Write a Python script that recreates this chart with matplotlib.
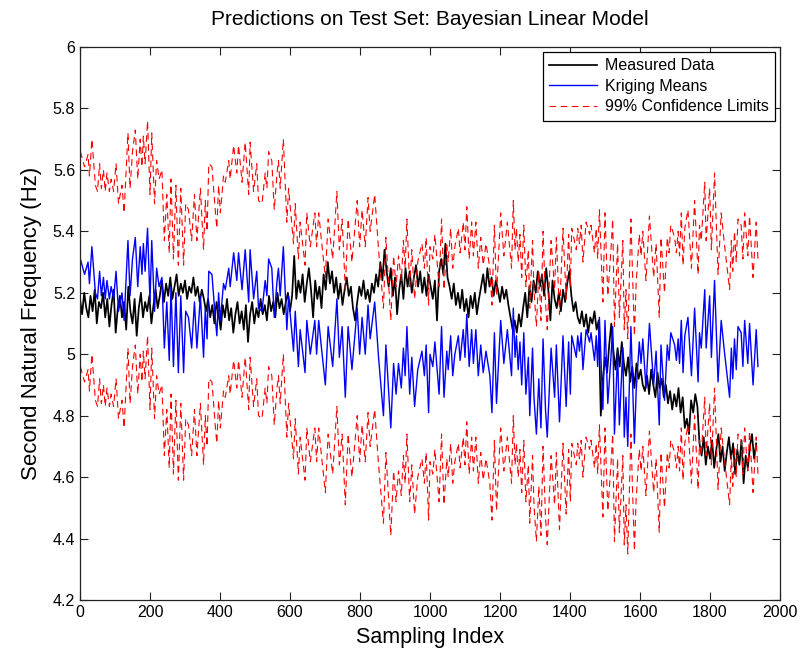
import numpy as np
import matplotlib
matplotlib.use('Agg')
import matplotlib.pyplot as plt
from matplotlib.ticker import FuncFormatter

plt.rcParams['font.family'] = ['Liberation Sans', 'DejaVu Sans']

# ---------------- data ----------------
# Measured data, one value every `measured_step` samples
measured_step = 6
measured_vals = [
    5.18, 5.13, 5.20, 5.15, 5.12, 5.19, 5.14, 5.21, 5.10, 5.17,
    5.15, 5.20, 5.12, 5.18, 5.09, 5.16, 5.21, 5.07, 5.15, 5.19,
    5.12, 5.17, 5.08, 5.22, 5.14, 5.10, 5.18, 5.06, 5.15, 5.20,
    5.12, 5.17, 5.14, 5.19, 5.10, 5.16, 5.21, 5.15, 5.19, 5.24,
    5.17, 5.23, 5.19, 5.25, 5.18, 5.22, 5.26, 5.19, 5.23, 5.20,
    5.24, 5.18, 5.22, 5.20, 5.25, 5.19, 5.22, 5.17, 5.21, 5.18,
    5.14, 5.18, 5.12, 5.16, 5.10, 5.17, 5.13, 5.08, 5.16, 5.12,
    5.18, 5.11, 5.15, 5.07, 5.13, 5.17, 5.10, 5.14, 5.08, 5.16,
    5.04, 5.13, 5.17, 5.10, 5.15, 5.12, 5.18, 5.13, 5.16, 5.11,
    5.19, 5.14, 5.17, 5.12, 5.20, 5.15, 5.18, 5.13, 5.17, 5.20,
    5.14, 5.19, 5.32, 5.18, 5.24, 5.20, 5.26, 5.17, 5.23, 5.28,
    5.21, 5.12, 5.24, 5.18, 5.22, 5.15, 5.26, 5.21, 5.30, 5.23,
    5.27, 5.20, 5.25, 5.18, 5.23, 5.16, 5.21, 5.25, 5.19, 5.22,
    5.15, 5.11, 5.17, 5.22, 5.19, 5.24, 5.18, 5.21, 5.17, 5.23,
    5.20, 5.26, 5.22, 5.30, 5.24, 5.34, 5.27, 5.22, 5.28, 5.19,
    5.25, 5.13, 5.21, 5.26, 5.18, 5.28, 5.22, 5.27, 5.20, 5.25,
    5.29, 5.22, 5.27, 5.20, 5.25, 5.19, 5.26, 5.22, 5.18, 5.24,
    5.11, 5.27, 5.31, 5.26, 5.36, 5.25, 5.22, 5.18, 5.23, 5.16,
    5.20, 5.15, 5.21, 5.14, 5.18, 5.12, 5.19, 5.15, 5.20, 5.13,
    5.18, 5.22, 5.26, 5.20, 5.28, 5.22, 5.25, 5.19, 5.24, 5.21,
    5.17, 5.22, 5.18, 5.21, 5.16, 5.12, 5.08, 5.11, 5.07, 5.13,
    5.09, 5.15, 5.20, 5.12, 5.22, 5.17, 5.24, 5.20, 5.27, 5.22,
    5.26, 5.19, 5.28, 5.21, 5.11, 5.24, 5.18, 5.15, 5.20, 5.14,
    5.21, 5.17, 5.23, 5.27, 5.19, 5.14, 5.17, 5.12, 5.10, 5.14,
    5.09, 5.13, 5.07, 5.12, 5.10, 5.14, 5.08, 5.11, 4.80, 4.92,
    4.99, 4.94, 5.03, 5.10, 5.01, 4.95, 5.02, 4.96, 5.04, 4.97,
    4.93, 4.99, 4.91, 4.96, 4.89, 4.97, 4.92, 4.95, 4.90, 4.88,
    4.93, 4.87, 4.95, 4.90, 4.86, 4.94, 4.89, 4.92, 4.86, 4.90,
    4.84, 4.88, 4.82, 4.87, 4.83, 4.89, 4.81, 4.86, 4.76, 4.79,
    4.74, 4.85, 4.81, 4.87, 4.83, 4.71, 4.67, 4.73, 4.64, 4.70,
    4.66, 4.72, 4.63, 4.69, 4.74, 4.65, 4.70, 4.62, 4.68, 4.73,
    4.66, 4.71, 4.61, 4.69, 4.64, 4.72, 4.58, 4.67, 4.63, 4.70,
    4.74, 4.66, 4.71,
]

# Kriging means: sampling index of each read point and its value
kriging_idx = [
    1, 13, 23, 27, 34, 44, 50, 56, 61, 67,
    72, 77, 84, 89, 96, 103, 110, 120, 126, 137,
    143, 150, 158, 165, 172, 177, 181, 186, 193, 200,
    205, 213, 219, 226, 234, 241, 248, 255, 260, 267,
    274, 281, 288, 296, 302, 310, 319, 327, 334, 344,
    353, 358, 363, 368, 377, 387, 391, 396, 401, 410,
    415, 425, 429, 439, 448, 453, 463, 472, 482, 486,
    496, 505, 510, 520, 529, 534, 539, 548, 555, 563,
    567, 572, 581, 591, 596, 610, 615, 624, 629, 643,
    648, 658, 671, 676, 682, 689, 701, 709, 722, 734,
    741, 749, 758, 766, 777, 792, 799, 806, 815, 823,
    829, 842, 853, 867, 874, 888, 896, 903, 910, 918,
    924, 929, 934, 942, 948, 956, 965, 977, 984, 989,
    996, 1000, 1008, 1014, 1026, 1033, 1040, 1048, 1052, 1059,
    1065, 1071, 1081, 1086, 1095, 1100, 1105, 1112, 1119, 1124,
    1131, 1138, 1145, 1152, 1160, 1171, 1177, 1184, 1190, 1202,
    1211, 1221, 1233, 1238, 1243, 1247, 1252, 1257, 1262, 1268,
    1274, 1281, 1285, 1293, 1297, 1304, 1311, 1317, 1323, 1330,
    1335, 1346, 1356, 1361, 1370, 1380, 1389, 1396, 1401, 1405,
    1418, 1422, 1427, 1432, 1437, 1446, 1456, 1460, 1470, 1475,
    1479, 1484, 1494, 1500, 1508, 1517, 1522, 1527, 1536, 1541,
    1551, 1555, 1560, 1565, 1574, 1584, 1589, 1598, 1603, 1608,
    1617, 1627, 1639, 1646, 1655, 1660, 1670, 1678, 1683, 1688,
    1699, 1704, 1709, 1713, 1718, 1723, 1728, 1737, 1747, 1756,
    1766, 1770, 1775, 1785, 1789, 1799, 1804, 1813, 1823, 1832,
    1842, 1851, 1856, 1861, 1865, 1870, 1875, 1880, 1889, 1894,
    1899, 1908, 1913, 1923, 1932, 1937,
]
kriging_vals = [
    5.31, 5.26, 5.30, 5.23, 5.35, 5.20, 5.18, 5.27, 5.19, 5.25,
    5.18, 5.24, 5.18, 5.22, 5.18, 5.27, 5.14, 5.20, 5.11, 5.37,
    5.19, 5.31, 5.38, 5.22, 5.35, 5.26, 5.36, 5.27, 5.41, 5.17,
    5.37, 5.14, 5.28, 5.22, 5.25, 5.02, 5.17, 4.98, 5.22, 4.96,
    5.20, 4.94, 5.19, 4.94, 5.14, 5.12, 5.02, 5.17, 5.02, 5.19,
    4.99, 5.15, 5.05, 5.27, 5.26, 5.11, 5.06, 5.20, 5.11, 5.23,
    5.21, 5.28, 5.22, 5.33, 5.24, 5.33, 5.21, 5.34, 5.17, 5.34,
    5.18, 5.27, 5.15, 5.14, 5.24, 5.19, 5.31, 5.28, 5.12, 5.24,
    5.28, 5.19, 5.35, 5.08, 5.19, 5.01, 5.14, 4.96, 5.08, 4.94,
    5.11, 5.00, 5.11, 5.00, 5.11, 5.03, 4.90, 5.09, 4.96, 5.18,
    4.99, 5.09, 4.86, 5.09, 4.95, 5.15, 5.00, 5.12, 5.00, 5.16,
    5.05, 5.17, 4.99, 4.80, 5.03, 4.76, 4.97, 4.87, 4.97, 4.89,
    5.02, 4.93, 5.09, 4.87, 4.99, 4.83, 4.95, 5.01, 4.93, 5.03,
    4.81, 5.00, 4.96, 5.04, 4.87, 5.09, 4.86, 5.01, 4.95, 5.06,
    4.93, 5.00, 5.06, 4.98, 5.08, 4.99, 5.13, 4.96, 5.08, 4.97,
    5.08, 4.93, 5.03, 4.94, 5.01, 4.93, 4.81, 5.07, 4.84, 5.11,
    4.97, 5.08, 4.93, 5.15, 4.99, 5.06, 4.95, 5.04, 4.90, 5.07,
    4.87, 4.99, 4.80, 5.02, 4.86, 4.74, 4.92, 4.76, 5.05, 4.82,
    4.73, 5.02, 4.86, 5.03, 4.78, 5.06, 4.83, 5.04, 4.87, 5.06,
    4.99, 5.06, 5.01, 5.07, 4.95, 5.08, 5.04, 5.07, 4.98, 5.06,
    4.96, 5.12, 4.82, 5.11, 4.84, 4.99, 5.09, 4.74, 5.01, 4.77,
    5.02, 4.73, 4.86, 4.70, 5.09, 4.71, 4.88, 5.04, 4.97, 5.05,
    4.89, 5.10, 4.90, 5.01, 4.77, 5.03, 4.85, 5.03, 4.98, 5.07,
    5.03, 4.98, 5.05, 4.97, 5.11, 4.94, 5.06, 5.12, 4.93, 5.15,
    4.91, 5.07, 5.02, 5.21, 5.02, 5.19, 4.99, 5.24, 4.91, 5.11,
    5.00, 4.91, 4.86, 5.02, 4.92, 5.05, 4.95, 5.09, 5.07, 4.96,
    5.11, 4.97, 5.10, 4.90, 5.08, 4.96,
]

# half width of the 99% confidence band around the kriging means
ci_halfwidth = 0.35

labels = ['Measured Data', 'Kriging Means', '99% Confidence Limits']
x_ticks = [0, 200, 400, 600, 800, 1000, 1200, 1400, 1600, 1800, 2000]
y_ticks = [4.2, 4.4, 4.6, 4.8, 5.0, 5.2, 5.4, 5.6, 5.8, 6.0]

# ---------------- figure ----------------
fig = plt.figure(figsize=(8.06, 6.59), dpi=100)
ax = fig.add_axes([80 / 806, 1 - 600 / 659, 700 / 806, 553 / 659])

measured_x = np.arange(len(measured_vals)) * measured_step
k_idx = np.array(kriging_idx)
k_val = np.array(kriging_vals)

ax.plot(measured_x, measured_vals, color='black', lw=1.25, label=labels[0])
ax.plot(k_idx, k_val, color='#0000ff', lw=1.0, label=labels[1])
dash = (0, (6, 4))
ax.plot(k_idx, k_val + ci_halfwidth, color='#ff0000', lw=0.8, ls=dash, label=labels[2])
ax.plot(k_idx, k_val - ci_halfwidth, color='#ff0000', lw=0.8, ls=dash)

ax.set_xlim(0, 2000)
ax.set_ylim(4.2, 6.0)
ax.set_xticks(x_ticks)
ax.set_yticks(y_ticks)
ax.yaxis.set_major_formatter(FuncFormatter(lambda v, p: f"{v:g}"))
ax.tick_params(direction='in', top=True, right=True, length=6, width=0.8,
               labelsize=11.5, colors='#222222', labelcolor='black')
for s in ax.spines.values():
    s.set_linewidth(0.9)
    s.set_color('#222222')

ax.set_title('Predictions on Test Set: Bayesian Linear Model', fontsize=15, pad=16)
ax.set_xlabel('Sampling Index', fontsize=15.5, labelpad=5)
ax.set_ylabel('Second Natural Frequency (Hz)', fontsize=16, labelpad=8)

leg = ax.legend(loc='upper right', fontsize=11.5, frameon=True, fancybox=False,
                edgecolor='black', framealpha=1, handlelength=3.0,
                borderaxespad=0.3, borderpad=0.4, labelspacing=0.35,
                handletextpad=0.5)
leg.get_frame().set_linewidth(0.9)

fig.savefig('out.png', dpi=100)
